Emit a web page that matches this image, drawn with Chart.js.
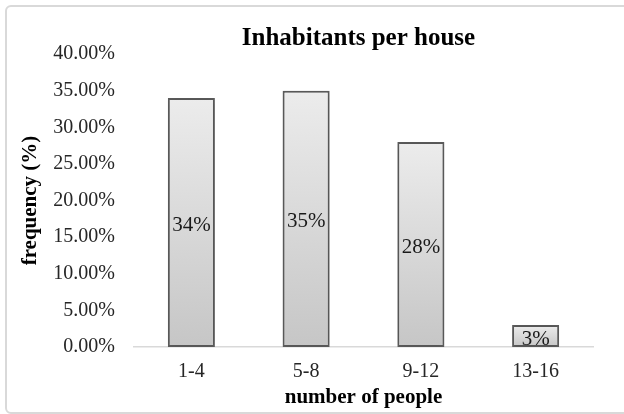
<!DOCTYPE html>
<html>
<head>
<meta charset="utf-8">
<script src="https://cdn.jsdelivr.net/npm/chart.js@4.4.1/dist/chart.umd.min.js"></script>
<style>
  html, body { margin: 0; padding: 0; background: #ffffff; }
  #wrap { position: relative; width: 624px; height: 414px; }
  #frame { position: absolute; left: 5px; top: 5px; width: 640px; height: 409px; border: 2px solid #d9d9d9; border-radius: 6px; box-sizing: border-box; }
  canvas { position: absolute; left: 0; top: 0; }
</style>
</head>
<body>
<div id="wrap">
  <div id="frame"></div>
  <canvas id="c" width="624" height="414"></canvas>
</div>
<script>
const chartTitle = 'Inhabitants per house';
const categories = ['1-4', '5-8', '9-12', '13-16'];
const frequency = [34, 35, 28, 3];
const valueLabels = ['34%', '35%', '28%', '3%'];
const yTicks = [0, 5, 10, 15, 20, 25, 30, 35, 40];

const SERIF = '"Liberation Serif", "Times New Roman", serif';

function barGradient(ctx) {
  const chart = ctx.chart;
  const area = chart.chartArea;
  if (!area || ctx.dataIndex === undefined) return '#d9d9d9';
  const y = chart.scales.y;
  const top = y.getPixelForValue(frequency[ctx.dataIndex]);
  const bottom = y.getPixelForValue(0);
  const g = chart.ctx.createLinearGradient(0, top, 0, bottom);
  g.addColorStop(0, '#ececec');
  g.addColorStop(1, '#c6c6c6');
  return g;
}

const shadowPlugin = {
  id: 'barShadow',
  beforeDatasetsDraw(chart) {
    const c = chart.ctx;
    c.save();
    c.shadowColor = 'rgba(0,0,0,0.18)';
    c.shadowBlur = 5;
    c.shadowOffsetX = 0;
    c.shadowOffsetY = 0;
  },
  afterDatasetsDraw(chart) {
    chart.ctx.restore();
  }
};

const labelPlugin = {
  id: 'valueLabels',
  afterDatasetsDraw(chart) {
    const c = chart.ctx;
    const meta = chart.getDatasetMeta(0);
    c.save();
    c.font = '21px ' + SERIF;
    c.fillStyle = '#1a1a1a';
    c.textAlign = 'center';
    c.textBaseline = 'alphabetic';
    meta.data.forEach((bar, i) => {
      const mid = (bar.y + bar.base) / 2;
      c.fillText(valueLabels[i], bar.x, mid + 8.5);
    });
    c.restore();
  }
};

const titlePlugin = {
  id: 'excelTitle',
  afterDraw(chart) {
    const c = chart.ctx;
    const area = chart.chartArea;
    c.save();
    c.font = 'bold 25px ' + SERIF;
    c.fillStyle = '#000000';
    c.textAlign = 'center';
    c.textBaseline = 'alphabetic';
    c.fillText(chartTitle, (area.left + area.right) / 2 - 5, 45);
    c.restore();
  }
};

new Chart(document.getElementById('c'), {
  type: 'bar',
  data: {
    labels: categories,
    datasets: [{
      data: frequency,
      backgroundColor: barGradient,
      borderColor: '#5c5c5c',
      borderWidth: 2,
      borderSkipped: false,
      categoryPercentage: 1,
      barPercentage: 0.41
    }]
  },
  plugins: [shadowPlugin, labelPlugin, titlePlugin],
  options: {
    responsive: false,
    animation: false,
    layout: { padding: { left: 6, right: 31, top: 54, bottom: 4 } },
    plugins: {
      legend: { display: false },
      tooltip: { enabled: false },
      title: { display: false }
    },
    scales: {
      x: {
        grid: { display: false, drawTicks: false },
        border: { display: true, color: '#d9d9d9', width: 1.5 },
        ticks: { color: '#262626', font: { family: SERIF, size: 20 }, padding: 13 },
        title: {
          display: true,
          text: 'number of people',
          color: '#000000',
          font: { family: SERIF, size: 21, weight: 'bold' },
          padding: { top: 0, bottom: 0 }
        },
        afterFit(scale) { scale.height = 63; }
      },
      y: {
        min: 0,
        max: 40,
        afterBuildTicks(scale) { scale.ticks = yTicks.map(v => ({ value: v })); },
        grid: { display: false, drawTicks: false },
        border: { display: false },
        ticks: {
          color: '#262626',
          font: { family: SERIF, size: 20 },
          padding: 19,
          callback: (v) => v.toFixed(2) + '%'
        },
        title: {
          display: true,
          text: 'frequency (%)',
          color: '#000000',
          font: { family: SERIF, size: 21, weight: 'bold' },
          padding: { top: 12, bottom: 0 }
        },
        afterFit(scale) { scale.width = 128; }
      }
    }
  }
});
</script>
</body>
</html>
